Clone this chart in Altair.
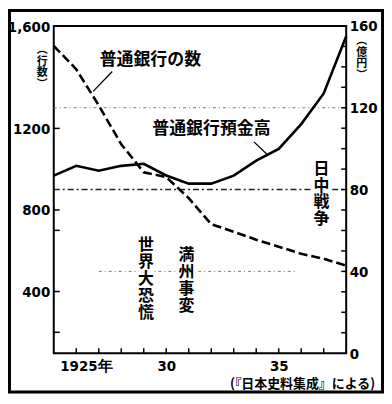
import altair as alt
import pandas as pd

# ---- data ----
years = list(range(1925, 1939))
bank_count = [1605, 1490, 1313, 1122, 985, 961, 858, 730, 693, 654, 620, 585, 561, 527]
deposits = [86.8, 91.6, 89.2, 91.6, 92.6, 86.9, 82.9, 82.9, 86.8, 94.1, 99.9, 112.0, 127.0, 155.0]

left_label_values = [400, 800, 1200, 1702]
left_tick_values = [200, 400, 700, 800, 1200]
right_label_values = [0, 40, 80, 120, 160]
right_tick_values = list(range(10, 160, 10))
x_label_values = [1925, 1930, 1935]
x_tick_values = list(range(1926, 1938))

grid_values = [120, 80, 40]
grid_start = [1925, 1925, 1927.0]
grid_end = [1938, 1938, 1935.8]

label_text = ["普通銀行の数", "普通銀行預金高"]
label_x = [1927.04, 1929.38]
label_y = [143.5, 109.6]

leader_x = [1927.6, 1933.9]
leader_x2 = [1926.75, 1934.5]
leader_y = [137.7, 103.3]
leader_y2 = [128.0, 97.0]

event_text = ["世界大恐慌", "満州事変", "日中戦争"]
event_x = [1929.1, 1930.9, 1936.9]
event_y = [52.8, 48.0, 90.2]   # position of each label's first character

source_text = "(『日本史料集成』による)"
left_unit = ["︵", "行", "数", "︶"]
right_unit = ["︵", "億", "円", "︶"]

# ---- tables ----
W, H = 294, 329
CJK = "Noto Sans CJK JP"
NUM = "Liberation Sans Narrow, DejaVu Sans Condensed, Liberation Sans, sans-serif"

df = pd.DataFrame({"year": years, "banks": bank_count, "deposits": deposits})
grid_df = pd.DataFrame({"v": grid_values, "x0": grid_start, "x1": grid_end, "k": [0, 1, 2]})
lab_df = pd.DataFrame({"t": label_text, "year": label_x, "v": label_y})
lead_df = pd.DataFrame({"year": leader_x, "x2": leader_x2, "v": leader_y, "v2": leader_y2})
ev_df = pd.DataFrame({"t": ["\n".join(list(s)) for s in event_text], "year": event_x, "v": event_y})
lt_df = pd.DataFrame({"v": left_tick_values})
rt_df = pd.DataFrame({"v": right_tick_values})
xt_df = pd.DataFrame({"year": x_tick_values})
one = pd.DataFrame({"a": [0]})

xscale = alt.Scale(domain=[1925, 1938], nice=False, zero=False)
rscale = alt.Scale(domain=[0, 160], nice=False, zero=False)
lscale = alt.Scale(domain=[97.6, 1702.5], nice=False, zero=False)

xaxis = alt.Axis(
    values=x_label_values,
    labelExpr="datum.value == 1925 ? '1925年' : '' + (datum.value - 1900)",
    labelAlign={"condition": {"test": "datum.value == 1925", "value": "left"}, "value": "center"},
    labelOffset={"condition": {"test": "datum.value == 1925", "value": 6}, "value": 0},
    labelFlush=False,
    domain=False, ticks=False, tickSize=0, grid=False,
    labelPadding=5, labelFont=NUM, labelFontSize=15, labelFontWeight="bold",
    labelColor="black", title=None,
)


def X(field):
    return alt.X(f"{field}:Q", scale=xscale, axis=xaxis)


def YR(field):
    return alt.Y(f"{field}:Q", scale=rscale, axis=None)


grid120 = alt.Chart(grid_df[grid_df.k == 0]).mark_rule(
    color="#7a7a7a", strokeWidth=1, strokeDash=[3, 3, 1, 3]
).encode(x=X("x0"), x2="x1", y=YR("v"))
grid80 = alt.Chart(grid_df[grid_df.k == 1]).mark_rule(
    color="#222222", strokeWidth=1.5, strokeDash=[6, 3, 2, 3]
).encode(x=X("x0"), x2="x1", y=YR("v"))
grid40 = alt.Chart(grid_df[grid_df.k == 2]).mark_rule(
    color="#7a7a7a", strokeWidth=1, strokeDash=[3, 3, 1, 3]
).encode(x=X("x0"), x2="x1", y=YR("v"))

ev_halo = alt.Chart(ev_df).mark_text(
    font=CJK, fontSize=16, fontWeight="bold", lineBreak="\n", lineHeight=17,
    baseline="middle", align="center", color="white", stroke="white", strokeWidth=6
).encode(x=X("year"), y=YR("v"), text="t:N")
ev_txt = alt.Chart(ev_df).mark_text(
    font=CJK, fontSize=16, fontWeight="bold", lineBreak="\n", lineHeight=17,
    baseline="middle", align="center", color="black"
).encode(x=X("year"), y=YR("v"), text="t:N")

lab_txt = alt.Chart(lab_df).mark_text(
    font=CJK, fontSize=17, fontWeight="bold", baseline="middle", align="left", color="black"
).encode(x=X("year"), y=YR("v"), text="t:N")

leaders = alt.Chart(lead_df).mark_rule(color="black", strokeWidth=1.3).encode(
    x=X("year"), x2="x2", y=YR("v"), y2="v2"
)

dep_line = alt.Chart(df).mark_line(color="black", strokeWidth=2.6).encode(
    x=X("year"),
    y=alt.Y("deposits:Q", scale=rscale, axis=alt.Axis(
        orient="right", values=right_label_values, domain=False, ticks=False, tickSize=0,
        grid=False, labelPadding=3, labelFont=NUM, labelFontSize=15, labelFontWeight="bold",
        labelColor="black", labelAlign="left",
        title=right_unit, titleAngle=0, titleX=15, titleY=9, titleFont=CJK,
        titleFontSize=11, titleFontWeight="bold", titleLineHeight=11.5,
        titleBaseline="top", titleAlign="center", titleColor="black",
    )),
)

bank_line = alt.Chart(df).mark_line(color="black", strokeWidth=2.6, strokeDash=[9, 4]).encode(
    x=X("year"),
    y=alt.Y("banks:Q", scale=lscale, axis=alt.Axis(
        orient="left", values=left_label_values,
        labelExpr="datum.value > 1600 ? '1,600' : '' + datum.value",
        domain=False, ticks=False, tickSize=0, grid=False, labelPadding=4,
        labelFont=NUM, labelFontSize=15, labelFontWeight="bold", labelColor="black",
        title=left_unit, titleAngle=0, titleX=-12, titleY=18, titleFont=CJK,
        titleFontSize=11, titleFontWeight="bold", titleLineHeight=11.5,
        titleBaseline="top", titleAlign="center", titleColor="black",
    )),
)

left_ticks = alt.Chart(lt_df).mark_rule(color="black", strokeWidth=1.5).encode(
    y=alt.Y("v:Q", scale=lscale, axis=None), x=alt.value(0), x2=alt.value(6)
)
right_ticks = alt.Chart(rt_df).mark_rule(color="black", strokeWidth=1.5).encode(
    y=YR("v"), x=alt.value(W), x2=alt.value(W - 5)
)
x_ticks = alt.Chart(xt_df).mark_rule(color="black", strokeWidth=1.5).encode(
    x=X("year"), y=alt.value(H), y2=alt.value(H - 5)
)

source = alt.Chart(one).mark_text(
    font=CJK, fontSize=13, fontWeight="bold", align="right", baseline="middle", color="black",
    text=source_text,
).encode(x=alt.value(323), y=alt.value(360))

frame = alt.Chart(one).mark_rect(filled=False, stroke="black", strokeWidth=3).encode(
    x=alt.value(-44.5), x2=alt.value(330.5), y=alt.value(-15.5), y2=alt.value(368)
)

chart = alt.layer(
    grid120, grid80, grid40, ev_halo, ev_txt, lab_txt, leaders,
    dep_line, bank_line, left_ticks, right_ticks, x_ticks, source, frame,
).resolve_scale(y="independent").properties(
    width=W, height=H,
    autosize=alt.AutoSizeParams(type="none"),
    padding={"left": 46, "top": 17, "right": 38, "bottom": 41},
    background="white",
).configure_view(stroke="black", strokeWidth=2)

chart.save("out.html", embed_options={"renderer": "svg", "actions": False})
